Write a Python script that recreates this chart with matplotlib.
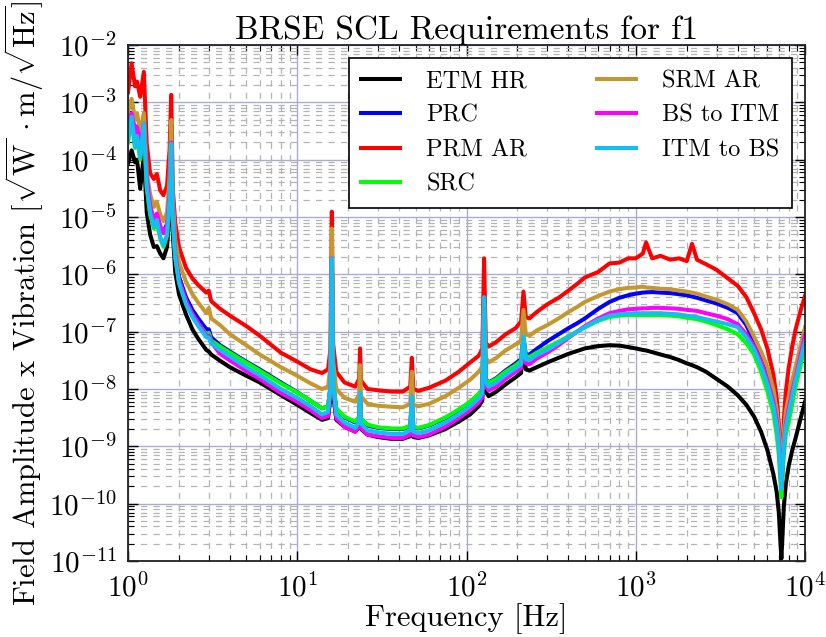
import matplotlib
matplotlib.use("Agg")
from matplotlib import pyplot as plt
from matplotlib.ticker import FuncFormatter, LogLocator
import numpy as np

plt.rcParams['font.family'] = 'serif'
plt.rcParams['font.serif'] = ['cmr10']
plt.rcParams['mathtext.fontset'] = 'cm'
plt.rcParams['axes.formatter.use_mathtext'] = True

# frecuencias comunes [Hz]
freq = [1.0, 1.05, 1.10, 1.13, 1.18, 1.24, 1.29, 1.35, 1.42, 1.48, 1.55, 1.62, 1.70, 1.76, 1.80, 1.84, 1.9, 2.0,
        2.2, 2.4, 2.6, 2.9, 3.0, 3.1, 3.5, 4.0, 5.0, 6.0, 8.0, 10, 12, 14, 15.2, 15.7, 16.0, 16.3, 17, 19, 22,
        23.2, 23.5, 23.8, 26, 30, 36, 42, 46.5, 47.5, 48.5, 52, 60, 75, 90, 105, 118, 124, 127, 130, 135, 150,
        170, 195, 210, 217, 224, 235, 260, 300, 350, 400, 450, 500, 600, 700, 800, 900, 1000, 1100, 1150, 1250,
        1400, 1600, 1800, 2000, 2150, 2300, 2600, 3000, 3500, 4000, 4500, 5000, 5500, 6000, 6500, 6800, 7000,
        7150, 7250, 7350, 7500, 7700, 8000, 8400, 8800, 9400, 10000]

etm_hr = [8.6e-5, 1.45e-4, 9e-5, 1e-4, 3.1e-5, 1.2e-4, 1.2e-5, 5e-6, 3e-6, 3.1e-6, 2.3e-6, 1.9e-6, 3e-6, 1.2e-5, 1.5e-4, 5e-6, 1.1e-6, 4.5e-7,
          2e-7, 1.1e-7, 7.5e-8, 4.8e-8, 4.5e-8, 4.0e-8, 3.1e-8, 2.4e-8, 1.7e-8, 1.3e-8, 7.8e-9, 5.3e-9, 3.8e-9, 2.9e-9, 3.1e-9, 7e-9, 1.0e-6, 8e-9, 2.9e-9, 2.2e-9, 1.8e-9,
          2.2e-9, 6e-9, 2e-9, 1.6e-9, 1.45e-9, 1.35e-9, 1.35e-9, 1.5e-9, 5e-9, 1.45e-9, 1.4e-9, 1.55e-9, 2e-9, 2.7e-9, 3.6e-9, 5e-9, 6.3e-9, 2.5e-7, 9e-9, 7.5e-9, 9e-9,
          1.2e-8, 1.6e-8, 1.9e-8, 6e-8, 2.2e-8, 2.1e-8, 2.4e-8, 2.9e-8, 3.5e-8, 4.1e-8, 4.6e-8, 5.1e-8, 5.6e-8, 5.8e-8, 5.7e-8, 5.4e-8, 5.1e-8, 4.8e-8, 4.7e-8, 4.4e-8,
          4e-8, 3.6e-8, 3.2e-8, 2.8e-8, 2.6e-8, 2.4e-8, 2.0e-8, 1.5e-8, 1.1e-8, 7.8e-9, 5.3e-9, 3.3e-9, 1.8e-9, 8.5e-10, 3.3e-10, 1.6e-10, 7e-11,
          2.2e-11, 1.1e-11, 2.5e-11, 9e-11, 2.2e-10, 4.5e-10, 8.5e-10, 1.4e-9, 3e-9, 6e-9]

prc = [3e-4, 6.5e-4, 3e-4, 3.8e-4, 1.6e-4, 4.5e-4, 5e-5, 1.5e-5, 8.5e-6, 1.1e-5, 6.5e-6, 5.5e-6, 7.5e-6, 2.5e-5, 2.0e-4, 1.2e-5, 2.5e-6, 9e-7,
       4e-7, 2.4e-7, 1.7e-7, 1.1e-7, 1.1e-7, 8e-8, 5.8e-8, 4.5e-8, 3.0e-8, 2.2e-8, 1.3e-8, 8.8e-9, 6.2e-9, 4.6e-9, 5e-9, 1.1e-8, 1.9e-6, 1.3e-8, 4.5e-9, 3.2e-9, 2.6e-9,
       3.2e-9, 8e-9, 3e-9, 2.3e-9, 2.1e-9, 2e-9, 2e-9, 2.25e-9, 7e-9, 2.15e-9, 2.05e-9, 2.3e-9, 3.1e-9, 4.3e-9, 5.9e-9, 8e-9, 1e-8, 3.8e-7, 1.5e-8, 1.3e-8, 1.55e-8,
       2.1e-8, 2.8e-8, 3.3e-8, 8e-8, 4e-8, 4e-8, 5e-8, 6.8e-8, 9e-8, 1.15e-7, 1.4e-7, 1.7e-7, 2.5e-7, 3.3e-7, 3.9e-7, 4.3e-7, 4.6e-7, 4.8e-7, 4.85e-7, 4.9e-7,
       4.8e-7, 4.7e-7, 4.5e-7, 4.3e-7, 4.1e-7, 3.9e-7, 3.5e-7, 3.1e-7, 2.6e-7, 2.1e-7, 1.3e-7, 6.7e-8, 3.5e-8, 1.6e-8, 7e-9, 3.2e-9, 1.4e-9,
       4.5e-10, 2e-10, 4.5e-10, 1.3e-9, 2.8e-9, 5e-9, 1e-8, 1.8e-8, 4e-8, 9e-8]

prm_ar = [1.5e-3, 4.8e-3, 1.9e-3, 2.3e-3, 1.25e-3, 3.4e-3, 1.9e-4, 5.8e-5, 4.6e-5, 5.6e-5, 2.9e-5, 2.4e-5, 3.5e-5, 1.5e-4, 1.35e-3, 3e-5, 8e-6, 3e-6,
          1.3e-6, 8.5e-7, 6.5e-7, 4.8e-7, 5.2e-7, 3.4e-7, 2.5e-7, 1.9e-7, 1.25e-7, 8.5e-8, 4.3e-8, 3.0e-8, 2.2e-8, 1.9e-8, 2.2e-8, 5e-8, 1.24e-5, 6e-8, 2e-8, 1.3e-8, 1.1e-8,
          1.5e-8, 5.1e-8, 1.4e-8, 1.0e-8, 9.5e-9, 9e-9, 9e-9, 1.1e-8, 3.5e-8, 1.0e-8, 9.3e-9, 1.05e-8, 1.4e-8, 2e-8, 2.9e-8, 3.8e-8, 5e-8, 1.9e-6, 6.5e-8, 5.5e-8, 6.6e-8,
          9e-8, 1.15e-7, 1.5e-7, 5e-7, 1.8e-7, 1.7e-7, 2.2e-7, 3.0e-7, 3.9e-7, 5.2e-7, 6.8e-7, 8.8e-7, 1.1e-6, 1.55e-6, 1.6e-6, 1.9e-6, 1.9e-6, 2.3e-6, 3.6e-6, 1.9e-6,
          2.1e-6, 1.8e-6, 1.9e-6, 1.7e-6, 3.4e-6, 1.8e-6, 1.5e-6, 1.2e-6, 8.5e-7, 6.3e-7, 4e-7, 2.1e-7, 1.1e-7, 5e-8, 1.8e-8, 7e-9, 2.5e-9,
          5e-10, 3e-10, 8e-10, 3e-9, 9e-9, 2.3e-8, 5.5e-8, 1.1e-7, 2.3e-7, 4.2e-7]

src = [2e-4, 5e-4, 1.6e-4, 2.4e-4, 1.0e-4, 4e-4, 3.2e-5, 1.1e-5, 6.3e-6, 8.2e-6, 4.2e-6, 3e-6, 4.7e-6, 1.9e-5, 1.85e-4, 8.5e-6, 2e-6, 7.5e-7,
       3.3e-7, 2e-7, 1.4e-7, 9e-8, 9.5e-8, 7e-8, 5.5e-8, 4.3e-8, 2.9e-8, 2.1e-8, 1.25e-8, 8.7e-9, 6.2e-9, 4.6e-9, 5e-9, 1.1e-8, 1.8e-6, 1.3e-8, 4.6e-9, 3.3e-9, 2.7e-9,
       3.3e-9, 8e-9, 3.1e-9, 2.4e-9, 2.15e-9, 2.05e-9, 2.05e-9, 2.3e-9, 7e-9, 2.2e-9, 2.1e-9, 2.35e-9, 3.2e-9, 4.4e-9, 6e-9, 8.2e-9, 1e-8, 3.8e-7, 1.5e-8, 1.28e-8, 1.5e-8,
       2e-8, 2.6e-8, 3.1e-8, 8e-8, 3.7e-8, 3.6e-8, 4.3e-8, 5.3e-8, 6.7e-8, 8.3e-8, 1.0e-7, 1.18e-7, 1.55e-7, 1.8e-7, 1.9e-7, 1.95e-7, 1.95e-7, 1.95e-7, 1.95e-7, 1.95e-7,
       1.95e-7, 1.9e-7, 1.85e-7, 1.75e-7, 1.7e-7, 1.65e-7, 1.5e-7, 1.3e-7, 1.1e-7, 9e-8, 6.3e-8, 4e-8, 2e-8, 9e-9, 3.8e-9, 1.6e-9, 7e-10,
       2.5e-10, 1.3e-10, 2.5e-10, 7e-10, 1.6e-9, 2.6e-9, 5.5e-9, 1.1e-8, 2.5e-8, 5.5e-8]

srm_ar = [7e-4, 1.15e-3, 5e-4, 6.5e-4, 3e-4, 6.5e-4, 6e-5, 2.5e-5, 1.5e-5, 1.85e-5, 1.1e-5, 8.5e-6, 1.2e-5, 5e-5, 4.9e-4, 2e-5, 4e-6, 1.6e-6,
          7.5e-7, 4.5e-7, 3.2e-7, 2.1e-7, 2.6e-7, 1.7e-7, 1.3e-7, 9e-8, 5.8e-8, 4.0e-8, 2.4e-8, 1.7e-8, 1.25e-8, 1.0e-8, 1.1e-8, 2.5e-8, 6.3e-6, 3e-8, 1.0e-8, 7e-9, 6e-9,
          8e-9, 2.6e-8, 7.5e-9, 5.5e-9, 5.1e-9, 4.9e-9, 4.8e-9, 5.5e-9, 2.0e-8, 5.3e-9, 5e-9, 5.5e-9, 7.5e-9, 1.05e-8, 1.45e-8, 2.0e-8, 2.5e-8, 3.5e-7, 3.5e-8, 2.9e-8, 3.5e-8,
          4.7e-8, 6e-8, 7e-8, 2.4e-7, 9e-8, 8.5e-8, 1.05e-7, 1.3e-7, 1.7e-7, 2.2e-7, 2.7e-7, 3.3e-7, 4.2e-7, 5e-7, 5.5e-7, 5.8e-7, 5.9e-7, 6.1e-7, 5.9e-7, 5.8e-7,
          5.6e-7, 5.5e-7, 5.2e-7, 5e-7, 4.8e-7, 4.6e-7, 4.1e-7, 3.6e-7, 3.0e-7, 2.4e-7, 1.5e-7, 8.1e-8, 4.5e-8, 2.4e-8, 1.0e-8, 4.3e-9, 1.8e-9,
          6e-10, 2.5e-10, 6e-10, 1.8e-9, 4e-9, 7.3e-9, 1.4e-8, 2.5e-8, 5.5e-8, 1.2e-7]

bs_itm = [4e-4, 6.4e-4, 3e-4, 3.7e-4, 1.8e-4, 4.3e-4, 5e-5, 1.6e-5, 9e-6, 1.15e-5, 7e-6, 5.2e-6, 7e-6, 2.5e-5, 2.0e-4, 1.1e-5, 2.3e-6, 8e-7,
          3.5e-7, 2e-7, 1.4e-7, 8.5e-8, 8.5e-8, 6.5e-8, 4.1e-8, 3.15e-8, 2.05e-8, 1.5e-8, 8.5e-9, 6e-9, 4.25e-9, 3.1e-9, 3.4e-9, 8.5e-9, 1.9e-6, 1.0e-8, 3.1e-9, 2.2e-9, 1.8e-9,
          2.3e-9, 8e-9, 2.1e-9, 1.6e-9, 1.5e-9, 1.4e-9, 1.4e-9, 1.6e-9, 7e-9, 1.55e-9, 1.45e-9, 1.6e-9, 2.2e-9, 3.1e-9, 4.3e-9, 5.8e-9, 7.2e-9, 3.8e-7, 1.1e-8, 9.4e-9, 1.1e-8,
          1.5e-8, 2e-8, 2.3e-8, 7.5e-8, 2.8e-8, 2.7e-8, 3.4e-8, 4.3e-8, 5.8e-8, 7.8e-8, 1.0e-7, 1.25e-7, 1.7e-7, 2.1e-7, 2.3e-7, 2.45e-7, 2.5e-7, 2.55e-7, 2.55e-7, 2.6e-7,
          2.6e-7, 2.55e-7, 2.5e-7, 2.4e-7, 2.35e-7, 2.3e-7, 2.1e-7, 1.9e-7, 1.65e-7, 1.35e-7, 9e-8, 5.5e-8, 3e-8, 1.4e-8, 6e-9, 2.8e-9, 1.2e-9,
          4e-10, 1.9e-10, 4e-10, 1.1e-9, 2.5e-9, 4.5e-9, 9e-9, 1.6e-8, 3.8e-8, 8.8e-8]

itm_bs = [2.2e-4, 5.6e-4, 1.7e-4, 2.6e-4, 1.1e-4, 4.3e-4, 3.4e-5, 1.2e-5, 6.8e-6, 8.9e-6, 4.5e-6, 3.2e-6, 5e-6, 2e-5, 1.9e-4, 9e-6, 2e-6, 7e-7,
          3e-7, 1.8e-7, 1.25e-7, 8e-8, 7.8e-8, 6.2e-8, 4.8e-8, 3.7e-8, 2.4e-8, 1.75e-8, 1.0e-8, 7e-9, 5e-9, 3.6e-9, 4e-9, 1e-8, 1.9e-6, 1.2e-8, 3.6e-9, 2.6e-9, 2.1e-9,
          2.7e-9, 8.6e-9, 2.5e-9, 1.9e-9, 1.75e-9, 1.65e-9, 1.65e-9, 1.9e-9, 7.5e-9, 1.8e-9, 1.7e-9, 1.9e-9, 2.6e-9, 3.6e-9, 5e-9, 6.8e-9, 8.5e-9, 4e-7, 1.3e-8, 1.1e-8, 1.3e-8,
          1.75e-8, 2.3e-8, 2.7e-8, 8.3e-8, 3.3e-8, 3.2e-8, 3.9e-8, 4.8e-8, 6.3e-8, 8e-8, 1.0e-7, 1.2e-7, 1.6e-7, 1.9e-7, 2.0e-7, 2.05e-7, 2.1e-7, 2.1e-7, 2.1e-7, 2.1e-7,
          2.1e-7, 2.05e-7, 2.0e-7, 1.9e-7, 1.85e-7, 1.8e-7, 1.65e-7, 1.5e-7, 1.35e-7, 1.2e-7, 8e-8, 4.9e-8, 2.5e-8, 1.2e-8, 5e-9, 2.3e-9, 1.0e-9,
          3.5e-10, 1.8e-10, 3.5e-10, 1e-9, 2.2e-9, 3.8e-9, 7.5e-9, 1.45e-8, 3.2e-8, 6.7e-8]

series = [("ETM HR", etm_hr, "black"),
          ("PRC", prc, "#0000ff"),
          ("PRM AR", prm_ar, "#ff0000"),
          ("SRC", src, "#00ff00"),
          ("SRM AR", srm_ar, "#c4982f"),
          ("BS to ITM", bs_itm, "#ff00ff"),
          ("ITM to BS", itm_bs, "#10c0f0")]

fig = plt.figure(figsize=(8.26, 6.37), dpi=100)
ax = fig.add_axes([0.155, 0.1193, 0.8196, 0.8101])

for nombre, vals, color in series:
    ax.loglog(freq, vals, color=color, lw=2.9, label=nombre)

ax.set_xlim(1, 1e4)
ax.set_ylim(1e-11, 1e-2)
ax.set_axisbelow(True)

ax.xaxis.set_major_locator(LogLocator(base=10, numticks=10))
ax.yaxis.set_major_locator(LogLocator(base=10, numticks=20))
ax.xaxis.set_minor_locator(LogLocator(base=10, subs=np.arange(2, 10), numticks=50))
ax.yaxis.set_minor_locator(LogLocator(base=10, subs=np.arange(2, 10), numticks=50))
fmt = FuncFormatter(lambda v, p: r'$10^{%d}$' % int(round(np.log10(v))))
ax.xaxis.set_major_formatter(fmt)
ax.yaxis.set_major_formatter(fmt)

ax.grid(True, which='major', color='#aaaad4', ls='-', lw=1.0)
ax.grid(True, which='minor', color='#b4b4b4', ls=(0, (5, 5)), lw=0.9)

ax.tick_params(which='both', direction='in', top=True, right=True, labelsize=21)
ax.tick_params(axis='x', which='major', pad=9)
ax.tick_params(axis='y', which='major', pad=8)
ax.tick_params(which='major', length=7, width=1.0)
ax.tick_params(which='minor', length=4, width=0.8)
for s in ax.spines.values():
    s.set_linewidth(1.3)
    s.set_color('#222222')

ax.set_title("BRSE SCL Requirements for f1", fontsize=24, pad=4)
ax.set_xlabel("Frequency [Hz]", fontsize=22, labelpad=0)
ax.set_ylabel(r'Field Amplitude x Vibration [$\sqrt{\mathrm{W}}\,\cdot\mathrm{m}/\sqrt{\mathrm{Hz}}$]', fontsize=22, labelpad=2)

leg = ax.legend(loc='upper right', ncol=2, fontsize=17.5, frameon=True, fancybox=False,
                framealpha=1, edgecolor='black', borderaxespad=0.55, handlelength=1.6,
                handletextpad=1.1, columnspacing=2.85, labelspacing=0.5, borderpad=0.5)
leg.get_frame().set_linewidth(1.2)

fig.savefig("out.png", dpi=100)
